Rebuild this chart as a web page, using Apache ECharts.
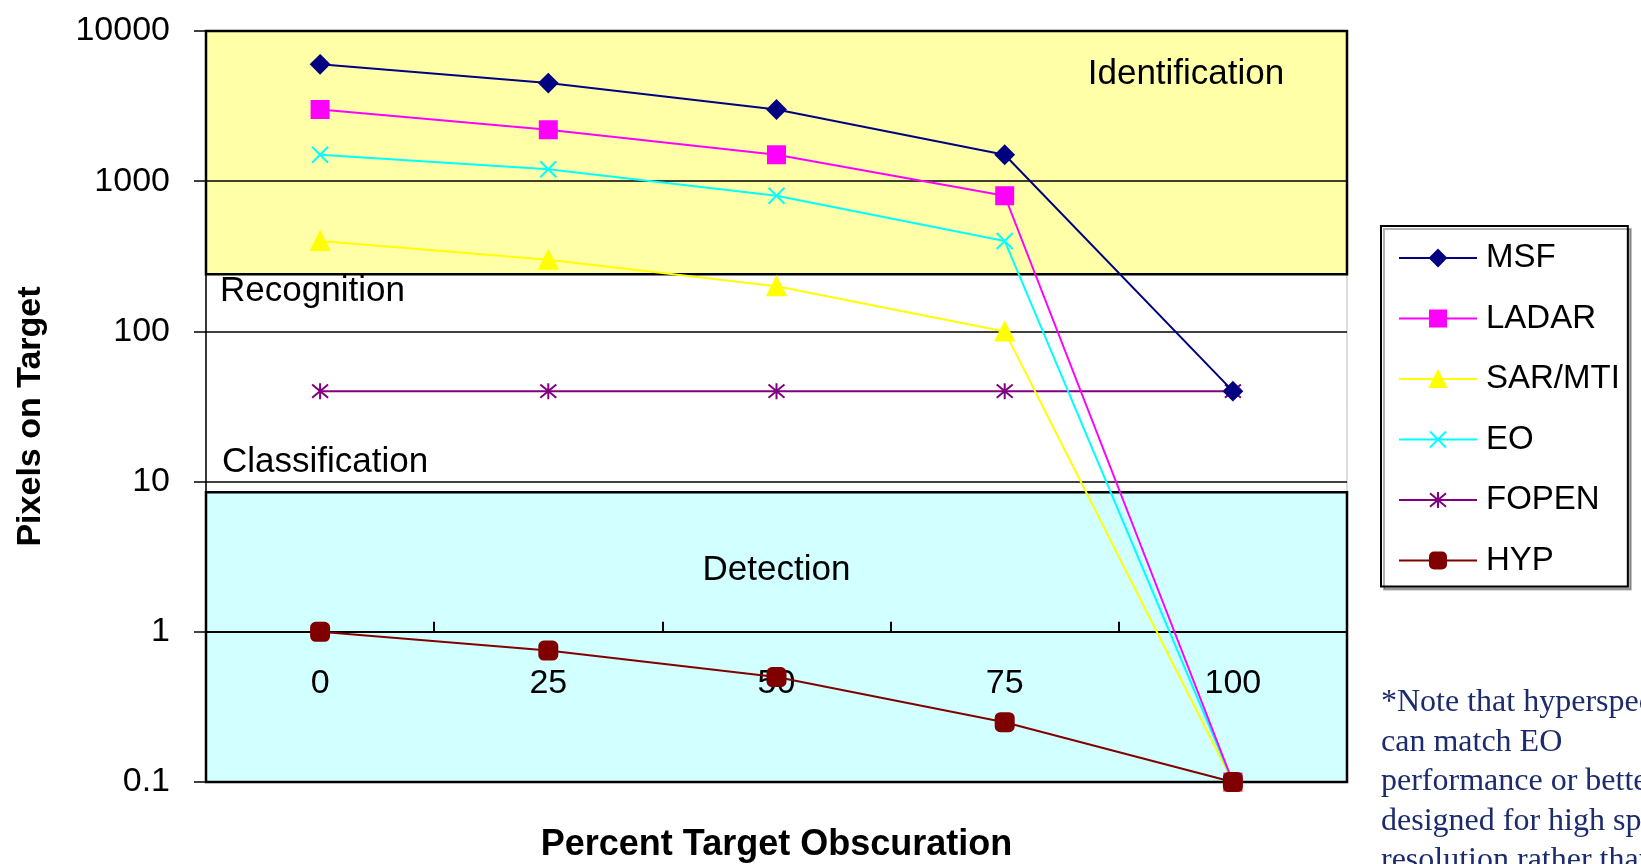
<!DOCTYPE html>
<html>
<head>
<meta charset="utf-8">
<script src="https://cdn.jsdelivr.net/npm/echarts@6/dist/echarts.min.js"></script>
<style>
    html, body {margin: 0; padding: 0; background: #fff;}
    #chart {width: 1641px; height: 864px;}
</style>
</head>
<body>
<div id="chart"></div>
<script>
// percent target obscuration
const categories = ['0', '25', '50', '75', '100'];

// pixels on target per sensor
const msf = [6000, 4500, 3000, 1500, 40];
const ladar = [3000, 2200, 1500, 800, 0.1];
const sarMti = [400, 300, 200, 100, 0.1];
const eo = [1500, 1200, 800, 400, 0.1];
const fopen = [40, 40, 40, 40, 40];
const hyp = [1, 0.75, 0.5, 0.25, 0.1];

// task bands (pixels on target)
const identificationBand = [240, 10000];
const recognitionBand = [100, 240];
const classificationBand = [10, 100];
const detectionBand = [0.1, 8.5];

const noteLines = [
    '*Note that hyperspectral',
    'can match EO',
    'performance or better if',
    'designed for high spatial',
    'resolution rather than spectral'
];

const FONT = '"Liberation Sans", Arial, sans-serif';
const xPath = 'path://M0,0L10,10M10,0L0,10';
const starPath = 'path://M0,0L10,10M10,0L0,10M5,-1L5,11';

function lineSeries(name, data, color, symbol, size, z) {
    return {
        name: name,
        type: 'line',
        xAxisIndex: 0,
        yAxisIndex: 0,
        data: data,
        symbol: symbol,
        symbolSize: size,
        lineStyle: {color: color, width: 2},
        itemStyle: {color: color, borderColor: color, borderWidth: 2},
        emphasis: {disabled: true},
        z: z
    };
}

const chartDom = document.getElementById('chart');
const myChart = echarts.init(chartDom);

const bandLabel = {
    fontFamily: FONT,
    fontSize: 35,
    color: '#000'
};

const option = {
    animation: false,
    backgroundColor: '#fff',
    grid: [
        {left: 206, right: 294, top: 31, bottom: 82, outerBoundsMode: 'none', show: true, borderColor: '#b8b8b8', borderWidth: 1},
        {left: 206, right: 294, top: 632, height: 40, outerBoundsMode: 'none'}
    ],
    legend: {
        orient: 'vertical',
        left: 1381,
        top: 226,
        data: ['MSF', 'LADAR', 'SAR/MTI', 'EO', 'FOPEN', 'HYP'],
        itemWidth: 78,
        itemHeight: 20,
        itemGap: 24.5,
        padding: [14, 8, 8, 17],
        backgroundColor: '#fff',
        borderColor: '#000',
        borderWidth: 2,
        shadowColor: 'rgba(0,0,0,0.3)',
        shadowOffsetX: 3,
        shadowOffsetY: 3,
        textStyle: {fontFamily: FONT, fontSize: 33, color: '#000', lineHeight: 36, padding: [0, 0, 0, 4]},
        selectedMode: false
    },
    xAxis: [
        {
            type: 'category',
            gridIndex: 0,
            data: categories,
            axisLine: {show: false},
            axisTick: {show: false},
            axisLabel: {show: false},
            splitLine: {show: false},
            name: 'Percent Target Obscuration',
            nameLocation: 'middle',
            nameGap: 45,
            nameTextStyle: {fontFamily: FONT, fontSize: 36, fontWeight: 'bold', color: '#000'}
        },
        {
            type: 'category',
            gridIndex: 1,
            position: 'top',
            data: categories,
            z: 4,
            axisLine: {onZero: false, lineStyle: {color: '#000', width: 2}},
            axisTick: {show: true, length: 10, lineStyle: {color: '#000', width: 2}},
            axisLabel: {inside: true, margin: 35, fontFamily: FONT, fontSize: 34, color: '#000'},
            splitLine: {show: false}
        }
    ],
    yAxis: [
        {
            type: 'log',
            gridIndex: 0,
            logBase: 10,
            min: 0.1,
            max: 10000,
            z: 4,
            axisLine: {show: true, lineStyle: {color: '#000', width: 1.5}},
            axisTick: {show: true, length: 12, lineStyle: {color: '#000', width: 1.5}},
            axisLabel: {
                margin: 36,
                fontFamily: FONT,
                fontSize: 34,
                color: '#000',
                formatter: v => String(+(+v).toPrecision(6))
            },
            splitLine: {show: true, lineStyle: {color: '#000', width: 1.5}},
            minorTick: {show: false},
            name: 'Pixels on Target',
            nameLocation: 'middle',
            nameGap: 158,
            nameTextStyle: {fontFamily: FONT, fontSize: 34, fontWeight: 'bold', color: '#000', padding: [0, 20, 0, 0]}
        },
        {type: 'value', gridIndex: 1, show: false}
    ],
    series: [
        {
            name: 'bands',
            type: 'line',
            xAxisIndex: 0,
            yAxisIndex: 0,
            data: [],
            z: 1,
            silent: true,
            markArea: {
                silent: true,
                z: 1,
                data: [
                    [{
                        yAxis: identificationBand[0],
                        name: 'Identification',
                        itemStyle: {color: '#ffffa8', borderColor: '#000', borderWidth: 2.5},
                        label: Object.assign({position: 'insideTopRight', distance: 27, offset: [-37, 0]}, bandLabel)
                    }, {yAxis: identificationBand[1]}],
                    [{
                        yAxis: recognitionBand[0],
                        name: 'Recognition',
                        itemStyle: {color: 'rgba(0,0,0,0)'},
                        label: Object.assign({position: 'insideTopLeft', distance: 0, offset: [14, 0]}, bandLabel)
                    }, {yAxis: recognitionBand[1]}],
                    [{
                        yAxis: classificationBand[0],
                        name: 'Classification',
                        itemStyle: {color: 'rgba(0,0,0,0)'},
                        label: Object.assign({position: 'insideBottomLeft', distance: 2, offset: [14, 0]}, bandLabel)
                    }, {yAxis: classificationBand[1]}],
                    [{
                        yAxis: detectionBand[0],
                        name: 'Detection',
                        itemStyle: {color: '#d2ffff', borderColor: '#000', borderWidth: 2.5},
                        label: Object.assign({position: 'insideTop', distance: 62}, bandLabel)
                    }, {yAxis: detectionBand[1]}]
                ]
            }
        },
        lineSeries('FOPEN', fopen, '#800080', starPath, 16, 3),
        lineSeries('SAR/MTI', sarMti, '#ffff00', 'triangle', 18, 4),
        lineSeries('EO', eo, '#00ffff', xPath, 16, 5),
        lineSeries('LADAR', ladar, '#ff00ff', 'rect', 17, 6),
        lineSeries('MSF', msf, '#000080', 'diamond', 18, 7),
        lineSeries('HYP', hyp, '#800000', 'roundRect', 18, 8)
    ],
    graphic: [
        {
            type: 'text',
            left: 1381,
            top: 683,
            silent: true,
            style: {
                text: noteLines.join('\n'),
                font: '32px "Liberation Serif", "Times New Roman", serif',
                fill: '#1c2b6e',
                lineHeight: 39.5
            }
        }
    ]
};

myChart.setOption(option);

// put the category axis on the value-1 line of the log axis
const yOne = myChart.convertToPixel({yAxisIndex: 0}, 1);
myChart.setOption({grid: [{}, {top: yOne}]});
</script>
</body>
</html>
